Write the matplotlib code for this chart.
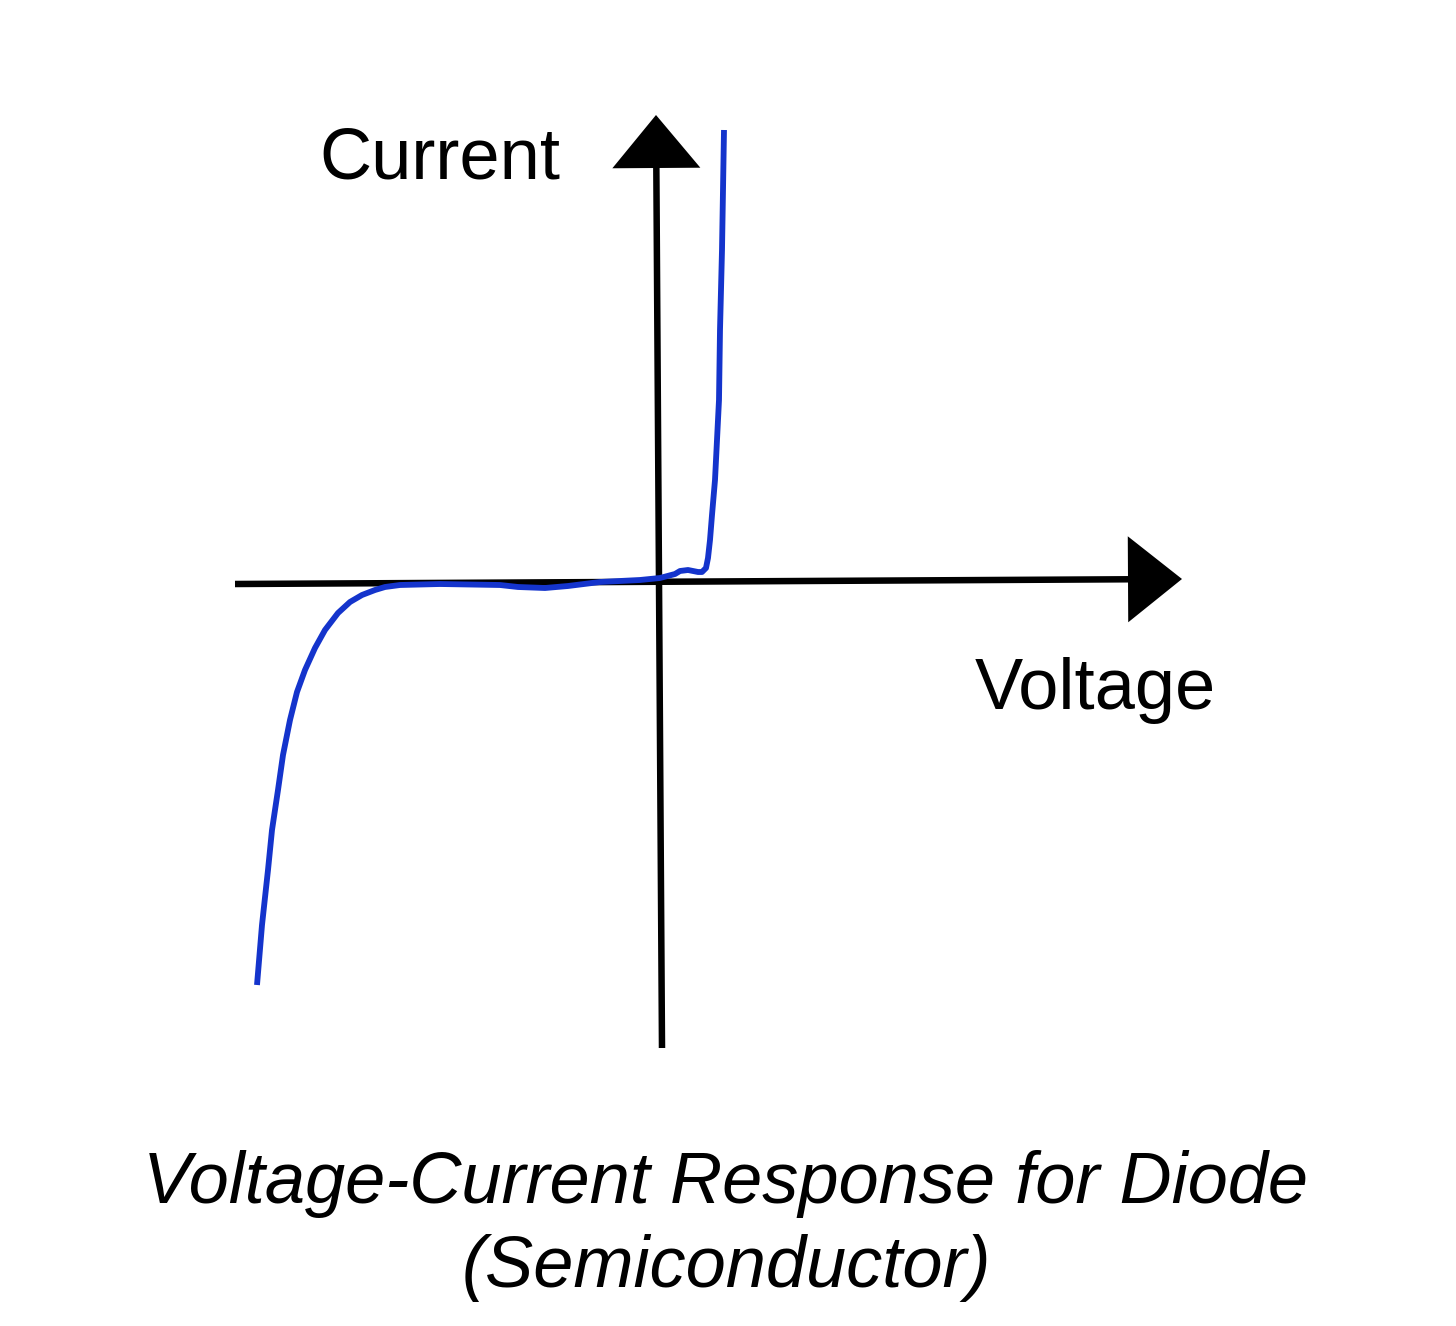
import matplotlib
matplotlib.use("Agg")
from matplotlib import pyplot as plt

plt.rcParams['font.family'] = ['Liberation Sans', 'DejaVu Sans']

# diode curve (arbitrary units, origin at axis crossing)
voltage = [0.66, 0.65, 0.64, 0.62, 0.61, 0.59, 0.57, 0.54, 0.52, 0.50, 0.48,
           0.44, 0.40, 0.30, 0.22, 0.17, 0.02, -0.18, -0.58, -0.90, -1.13,
           -1.40, -1.58, -2.18, -2.58, -2.73, -2.83, -2.96, -3.08, -3.20,
           -3.33, -3.43, -3.53, -3.61, -3.68, -3.75, -3.80, -3.86, -3.90,
           -3.96, -4.01]
current = [4.50, 3.90, 3.30, 2.50, 1.80, 1.40, 1.00, 0.65, 0.40, 0.22, 0.12,
           0.08, 0.08, 0.10, 0.09, 0.06, 0.02, 0.00, -0.02, -0.06, -0.08,
           -0.07, -0.05, -0.04, -0.05, -0.07, -0.10, -0.15, -0.22, -0.33,
           -0.50, -0.68, -0.90, -1.12, -1.40, -1.75, -2.10, -2.50, -2.90,
           -3.45, -4.05]

x_label = 'Voltage'
y_label = 'Current'
caption = 'Voltage-Current Response for Diode\n(Semiconductor)'

figure = plt.figure(figsize=(14.56, 13.26), dpi=100)
ax = figure.add_axes([0, 0, 1, 1])
ax.set_xlim(-6.58, 7.98)
ax.set_ylim(-7.46, 5.80)
ax.axis('off')

# axes with arrow heads
ax.arrow(-4.23, -0.04, 9.47, 0.05, width=0.065, head_width=0.86,
         head_length=0.54, length_includes_head=True, color='black', lw=0)
ax.arrow(0.04, -4.68, -0.06, 9.33, width=0.065, head_width=0.88,
         head_length=0.53, length_includes_head=True, color='black', lw=0)

ax.plot(voltage, current, color='#1434cc', lw=4.2, solid_capstyle='butt',
        solid_joinstyle='round')

ax.text(-2.18, 4.20, y_label, fontsize=52, ha='center', va='center')
ax.text(4.37, -1.10, x_label, fontsize=52, ha='center', va='center')
ax.text(0.68, -6.46, caption, fontsize=52, style='italic', ha='center',
        va='center', linespacing=1.3)

figure.savefig('out.png', dpi=100)
